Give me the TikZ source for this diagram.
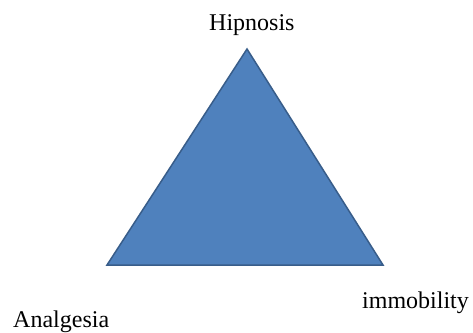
\documentclass[tikz,border=0pt]{standalone}
\usepackage{fontspec}
\setmainfont{Liberation Serif}
\definecolor{triFill}{HTML}{4F81BD}
\definecolor{triEdge}{HTML}{385D8A}
\begin{document}
\begin{tikzpicture}[x=1pt,y=-1pt,
  lbl/.style={font=\fontsize{24}{26}\selectfont, inner sep=0pt, anchor=base west}]
\useasboundingbox (0,0) rectangle (473,332);
\coordinate (top) at (247,49);
\coordinate (bl) at (107,265);
\coordinate (br) at (383,265);
\filldraw[fill=triFill, draw=triEdge, line width=1.5pt, line join=miter] (top) -- (br) -- (bl) -- cycle;
\node[lbl] (hip) at (209,30) {Hipnosis};
\node[lbl] (ana) at (13,327) {Analgesia};
\node[lbl] (imm) at (362,308) {immobility};
\end{tikzpicture}
\end{document}
